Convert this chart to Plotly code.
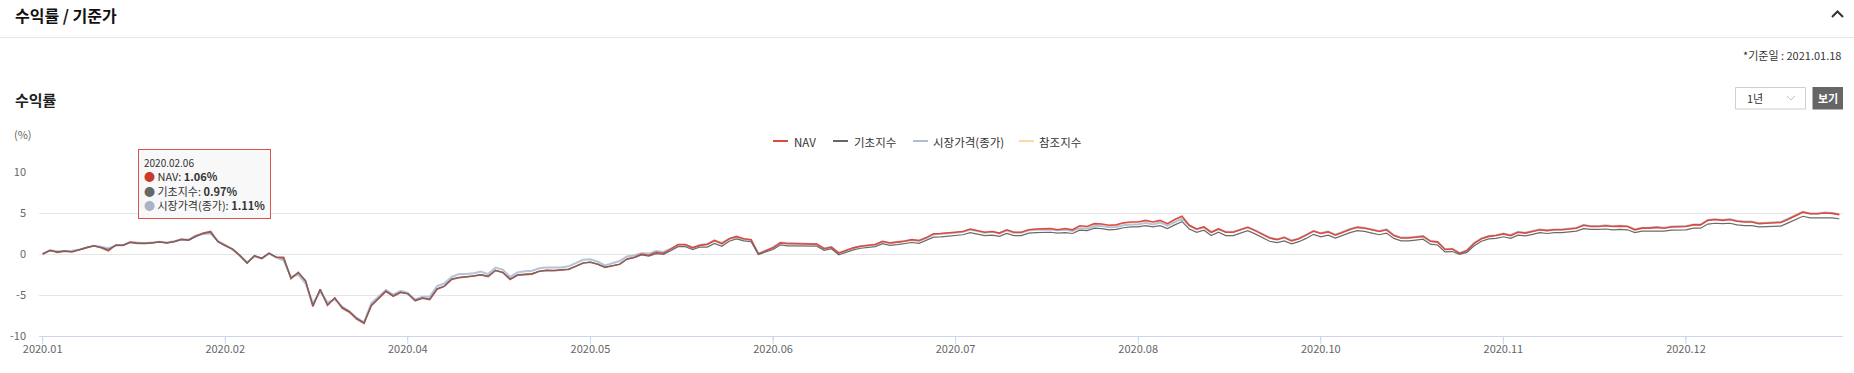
import plotly.graph_objects as go

# ---------------- data ----------------
NAV = [
    0.00, 0.45, 0.20, 0.35, 0.25, 0.50, 0.80, 1.00, 0.75, 0.40,
    1.10, 1.05, 1.45, 1.30, 1.30, 1.35, 1.50, 1.35, 1.50, 1.80,
    1.70, 2.20, 2.55, 2.75, 1.50, 1.06, 0.60, -0.20, -1.10, -0.20,
    -0.55, 0.10, -0.40, -0.40, -3.00, -2.25, -3.30, -6.40, -4.30, -6.25,
    -5.35, -6.60, -7.10, -7.95, -8.45, -6.30, -5.45, -4.55, -5.15, -4.70,
    -4.85, -5.70, -5.40, -5.55, -4.30, -3.95, -3.10, -2.90, -2.80, -2.70,
    -2.55, -2.75, -2.00, -2.25, -3.10, -2.60, -2.50, -2.45, -2.10, -2.00,
    -2.05, -2.00, -1.90, -1.50, -1.10, -1.00, -1.25, -1.65, -1.45, -1.25,
    -0.60, -0.40, 0.00, -0.15, 0.20, 0.10, 0.60, 1.15, 1.15, 0.75,
    1.05, 1.15, 1.65, 1.25, 1.85, 2.15, 1.85, 1.75, 0.00, 0.40,
    0.75, 1.35, 1.25, 1.25, 1.25, 1.20, 1.20, 0.65, 0.85, 0.10,
    0.40, 0.75, 0.95, 1.05, 1.15, 1.55, 1.35, 1.45, 1.55, 1.75,
    1.65, 2.00, 2.45, 2.50, 2.60, 2.65, 2.75, 3.05, 2.85, 2.65,
    2.75, 2.55, 2.95, 2.65, 2.65, 2.95, 3.05, 3.05, 3.10, 2.95,
    3.10, 2.95, 3.45, 3.35, 3.70, 3.65, 3.50, 3.55, 3.80, 3.90,
    3.90, 4.10, 3.90, 4.10, 3.70, 4.20, 4.60, 3.50, 3.05, 3.30,
    2.65, 3.05, 2.65, 2.65, 2.95, 3.25, 2.85, 2.35, 1.95, 1.75,
    2.00, 1.60, 1.85, 2.30, 2.80, 2.50, 2.70, 2.30, 2.70, 3.00,
    3.25, 3.15, 2.95, 2.75, 2.95, 2.25, 1.95, 1.95, 2.05, 2.15,
    1.55, 1.45, 0.55, 0.60, 0.10, 0.40, 1.30, 1.85, 2.15, 2.25,
    2.45, 2.25, 2.65, 2.55, 2.75, 2.95, 2.85, 2.95, 2.95, 3.05,
    3.15, 3.50, 3.35, 3.35, 3.45, 3.35, 3.40, 3.35, 2.95, 3.15,
    3.15, 3.25, 3.15, 3.30, 3.30, 3.35, 3.55, 3.55, 4.10, 4.20,
    4.10, 4.20, 4.00, 3.90, 3.90, 3.70, 3.75, 3.80, 3.85, 4.25,
    4.65, 5.10, 4.90, 4.90, 5.00, 4.95, 4.80,
]

BASE = [
    0.00, 0.40, 0.25, 0.35, 0.30, 0.50, 0.80, 1.00, 0.80, 0.55,
    1.05, 1.05, 1.40, 1.30, 1.30, 1.35, 1.45, 1.35, 1.50, 1.75,
    1.70, 2.15, 2.50, 2.65, 1.50, 0.97, 0.60, -0.15, -1.10, -0.20,
    -0.55, 0.10, -0.40, -0.55, -2.95, -2.25, -3.25, -6.30, -4.30, -6.20,
    -5.35, -6.50, -7.00, -7.85, -8.40, -6.25, -5.40, -4.50, -5.10, -4.65,
    -4.85, -5.65, -5.35, -5.50, -4.25, -3.90, -3.05, -2.85, -2.75, -2.70,
    -2.50, -2.70, -2.00, -2.25, -3.05, -2.55, -2.45, -2.40, -2.10, -2.00,
    -2.00, -1.95, -1.85, -1.50, -1.10, -1.00, -1.25, -1.60, -1.45, -1.25,
    -0.65, -0.45, -0.10, -0.25, 0.05, -0.05, 0.40, 0.90, 0.90, 0.55,
    0.85, 0.85, 1.30, 0.95, 1.55, 1.85, 1.60, 1.50, -0.05, 0.25,
    0.55, 1.10, 1.00, 1.00, 1.00, 0.95, 0.95, 0.45, 0.65, -0.10,
    0.20, 0.50, 0.70, 0.80, 0.90, 1.25, 1.05, 1.15, 1.25, 1.40,
    1.30, 1.65, 2.05, 2.10, 2.20, 2.25, 2.35, 2.60, 2.40, 2.25,
    2.30, 2.15, 2.50, 2.25, 2.25, 2.55, 2.60, 2.60, 2.65, 2.55,
    2.60, 2.50, 2.90, 2.85, 3.15, 3.10, 2.95, 3.00, 3.20, 3.30,
    3.30, 3.45, 3.30, 3.45, 3.10, 3.55, 3.95, 3.05, 2.65, 2.90,
    2.25, 2.65, 2.25, 2.25, 2.55, 2.85, 2.45, 1.95, 1.55, 1.40,
    1.60, 1.25, 1.50, 1.90, 2.40, 2.10, 2.30, 1.95, 2.30, 2.60,
    2.85, 2.75, 2.55, 2.35, 2.55, 1.90, 1.60, 1.60, 1.70, 1.80,
    1.20, 1.10, 0.25, 0.30, -0.05, 0.20, 1.00, 1.55, 1.85, 1.90,
    2.10, 1.90, 2.30, 2.20, 2.40, 2.60, 2.50, 2.60, 2.60, 2.70,
    2.80, 3.10, 3.00, 3.00, 3.05, 2.95, 3.00, 2.95, 2.60, 2.80,
    2.80, 2.85, 2.80, 2.90, 2.90, 2.95, 3.15, 3.15, 3.65, 3.75,
    3.70, 3.75, 3.55, 3.45, 3.45, 3.30, 3.35, 3.35, 3.40, 3.80,
    4.20, 4.60, 4.40, 4.40, 4.45, 4.40, 4.30,
]

MARKET = [
    0.00, 0.45, 0.35, 0.35, 0.40, 0.55, 0.80, 1.00, 0.90, 0.70,
    1.00, 1.10, 1.45, 1.35, 1.30, 1.40, 1.50, 1.40, 1.55, 1.80,
    1.75, 2.25, 2.45, 2.50, 1.60, 1.11, 0.55, -0.20, -1.00, -0.30,
    -0.50, 0.05, -0.45, -0.80, -2.80, -2.50, -3.60, -6.00, -4.60, -5.90,
    -5.55, -6.40, -7.00, -7.80, -8.35, -6.00, -5.25, -4.40, -4.95, -4.50,
    -4.75, -5.55, -5.20, -5.20, -3.90, -3.60, -2.80, -2.45, -2.45, -2.35,
    -2.15, -2.45, -1.65, -1.90, -2.80, -2.25, -2.10, -2.05, -1.75, -1.65,
    -1.65, -1.65, -1.50, -1.10, -0.70, -0.65, -0.95, -1.40, -1.15, -0.85,
    -0.30, -0.15, 0.10, 0.05, 0.35, 0.25, 0.65, 1.10, 1.10, 0.80,
    1.10, 1.25, 1.65, 1.35, 1.85, 2.05, 1.80, 1.70, 0.05, 0.40,
    0.80, 1.40, 1.35, 1.35, 1.30, 1.25, 1.20, 0.70, 0.85, 0.15,
    0.45, 0.75, 0.95, 1.05, 1.15, 1.50, 1.35, 1.45, 1.55, 1.70,
    1.60, 1.95, 2.40, 2.45, 2.55, 2.60, 2.70, 2.95, 2.80, 2.60,
    2.70, 2.50, 2.85, 2.60, 2.60, 2.90, 2.95, 2.95, 3.00, 2.90,
    2.95, 2.80, 3.15, 3.10, 3.40, 3.40, 3.25, 3.30, 3.50, 3.60,
    3.60, 3.80, 3.60, 3.85, 3.45, 3.90, 4.30, 3.45, 3.00, 3.25,
    2.65, 3.05, 2.70, 2.70, 3.00, 3.25, 2.90, 2.40, 2.00, 1.80,
    2.05, 1.65, 1.90, 2.35, 2.80, 2.55, 2.75, 2.35, 2.75, 3.05,
    3.30, 3.20, 3.00, 2.80, 3.00, 2.30, 2.00, 2.00, 2.10, 2.20,
    1.60, 1.50, 0.60, 0.65, 0.10, 0.45, 1.35, 1.90, 2.20, 2.30,
    2.50, 2.30, 2.70, 2.60, 2.80, 3.00, 2.90, 3.00, 3.00, 3.10,
    3.20, 3.55, 3.40, 3.40, 3.50, 3.40, 3.45, 3.40, 3.00, 3.20,
    3.20, 3.30, 3.20, 3.35, 3.35, 3.40, 3.60, 3.60, 4.15, 4.25,
    4.15, 4.25, 4.05, 3.95, 3.95, 3.75, 3.80, 3.85, 3.90, 4.30,
    4.70, 5.15, 4.95, 4.95, 5.05, 5.00, 4.85,
]

SERIES_NAMES = ["NAV", "기초지수", "시장가격(종가)", "참조지수"]
TICK_LABELS = ["2020.01", "2020.02", "2020.04", "2020.05", "2020.06",
               "2020.07", "2020.08", "2020.10", "2020.11", "2020.12"]
TICK_STEP = 25
Y_TICKS = [-10, -5, 0, 5, 10]
TOOLTIP_DATE = "2020.02.06"
TOOLTIP_INDEX = 25
BASE_DATE_TEXT = "*기준일 : 2021.01.18"
PERIOD_TEXT = "1년"

assert len(NAV) == len(BASE) == len(MARKET)

# ---------------- styling ----------------
W, H = 1854, 373
PL, PR, PT, PB = 39, 1843, 172, 336   # plot area in pixels
FONT = "Noto Sans CJK KR, Noto Sans, sans-serif"
C_NAV = "#dc4b3b"
C_BASE = "#6a6a6a"
C_MKT = "#b6c3d8"
C_REF = "#f8dca2"
C_AXIS = "#ccd6eb"


def fx(px):
    return (px - PL) / (PR - PL)


def fy(py):
    return (PB - py) / (PB - PT)


x = list(range(len(NAV)))
fig = go.Figure()
fig.add_trace(go.Scatter(x=x, y=MARKET, mode="lines", name=SERIES_NAMES[2],
                         line=dict(color=C_MKT, width=2), showlegend=False))
fig.add_trace(go.Scatter(x=x, y=NAV, mode="lines", name=SERIES_NAMES[0],
                         line=dict(color=C_NAV, width=1.6), showlegend=False))
fig.add_trace(go.Scatter(x=x, y=BASE, mode="lines", name=SERIES_NAMES[1],
                         line=dict(color=C_BASE, width=1.2), showlegend=False))

tickvals = list(range(0, len(NAV), TICK_STEP))[:len(TICK_LABELS)]

fig.update_layout(
    width=W, height=H,
    margin=dict(l=PL, r=W - PR, t=PT, b=H - PB, pad=0),
    paper_bgcolor="white", plot_bgcolor="white",
    font=dict(family=FONT, size=11, color="#666"),
    showlegend=False,
    xaxis=dict(range=[-0.5, len(NAV) - 0.5], tickvals=tickvals, ticktext=TICK_LABELS,
               showgrid=False, zeroline=False, showline=True, linecolor=C_AXIS,
               linewidth=1, ticks="outside", ticklen=3, tickcolor=C_AXIS,
               tickfont=dict(size=11, color="#666"), automargin=False, fixedrange=True),
    yaxis=dict(range=[-10, 10], tickvals=Y_TICKS, ticktext=[str(v) for v in Y_TICKS],
               showgrid=True, gridcolor="#e6e6e6", gridwidth=1, zeroline=False,
               showline=False, ticks="", ticklabelstandoff=12,
               tickfont=dict(size=11, color="#666"), automargin=False, fixedrange=True),
)

shapes = []
ann = []

# longer x tick marks (the axis labels sit closer than the marks reach)
for tv in tickvals:
    shapes.append(dict(type="line", xref="x", yref="paper", x0=tv, x1=tv,
                       y0=0, y1=fy(PB + 8), line=dict(color=C_AXIS, width=1)))

# header
ann.append(dict(x=fx(13), y=fy(15), xref="paper", yref="paper", text="<b>수익률 / 기준가</b>",
                showarrow=False, xanchor="left", yanchor="middle",
                font=dict(family=FONT, size=16, color="#111")))
shapes.append(dict(type="line", xref="paper", yref="paper", x0=fx(0), x1=fx(W), y0=fy(37.5), y1=fy(37.5),
                   line=dict(color="#e8e8e8", width=1)))
shapes.append(dict(type="path", xref="paper", yref="paper",
                   path=f"M {fx(1832)} {fy(17)} L {fx(1837.5)} {fy(11.5)} L {fx(1843)} {fy(17)}",
                   line=dict(color="#333", width=2)))
ann.append(dict(x=fx(1843), y=fy(55), xref="paper", yref="paper", text=BASE_DATE_TEXT,
                showarrow=False, xanchor="right", yanchor="middle",
                font=dict(family=FONT, size=11, color="#333")))
ann.append(dict(x=fx(13), y=fy(99), xref="paper", yref="paper", text="<b>수익률</b>",
                showarrow=False, xanchor="left", yanchor="middle",
                font=dict(family=FONT, size=15, color="#222")))

# dropdown + button
shapes.append(dict(type="rect", xref="paper", yref="paper", x0=fx(1735.5), x1=fx(1805.5),
                   y0=fy(109), y1=fy(87.5), line=dict(color="#cfcfcf", width=1), fillcolor="white"))
ann.append(dict(x=fx(1745), y=fy(98.5), xref="paper", yref="paper", text=PERIOD_TEXT,
                showarrow=False, xanchor="left", yanchor="middle",
                font=dict(family=FONT, size=11, color="#333")))
shapes.append(dict(type="path", xref="paper", yref="paper",
                   path=f"M {fx(1787)} {fy(96)} L {fx(1791)} {fy(100)} L {fx(1795)} {fy(96)}",
                   line=dict(color="#c4c4c4", width=1)))
shapes.append(dict(type="rect", xref="paper", yref="paper", x0=fx(1812.5), x1=fx(1843),
                   y0=fy(109.5), y1=fy(87), line=dict(width=0), fillcolor="#666"))
ann.append(dict(x=fx(1827.7), y=fy(98.5), xref="paper", yref="paper", text="<b>보기</b>",
                showarrow=False, xanchor="center", yanchor="middle",
                font=dict(family=FONT, size=11, color="white")))

# unit label
ann.append(dict(x=fx(23), y=fy(134), xref="paper", yref="paper", text="(%)",
                showarrow=False, xanchor="center", yanchor="middle",
                font=dict(family=FONT, size=11, color="#666")))

# legend (drawn)
legend_items = [(773, 792, SERIES_NAMES[0], C_NAV), (833, 852, SERIES_NAMES[1], "#666"),
                (913, 931, SERIES_NAMES[2], "#adbdd6"), (1019, 1037, SERIES_NAMES[3], C_REF)]
for lx, tx, name, col in legend_items:
    shapes.append(dict(type="line", xref="paper", yref="paper", x0=fx(lx), x1=fx(lx + 15),
                       y0=fy(141), y1=fy(141), line=dict(color=col, width=2)))
    ann.append(dict(x=fx(tx), y=fy(141.5), xref="paper", yref="paper", text=name,
                    showarrow=False, xanchor="left", yanchor="middle",
                    font=dict(family=FONT, size=11.5, color="#333")))

# tooltip
i = TOOLTIP_INDEX
tip = (f"<span style='font-size:10px'>{TOOLTIP_DATE}</span><br>"
       f"<span style='color:#c9392c'>●</span> {SERIES_NAMES[0]}: <b>{NAV[i]:.2f}%</b><br>"
       f"<span style='color:#666'>●</span> {SERIES_NAMES[1]}: <b>{BASE[i]:.2f}%</b><br>"
       f"<span style='color:#a8b4c8'>●</span> {SERIES_NAMES[2]}: <b>{MARKET[i]:.2f}%</b>")
ann.append(dict(x=fx(138), y=fy(148.5), xref="paper", yref="paper", text=tip,
                showarrow=False, xanchor="left", yanchor="top", align="left",
                bordercolor="#d9534f", borderwidth=1, borderpad=5,
                bgcolor="rgba(248,248,248,0.96)",
                font=dict(family=FONT, size=11, color="#333")))

fig.update_layout(shapes=shapes, annotations=ann)
fig.write_html("out.html",
               config={"displayModeBar": False},
               post_script="document.body.style.margin='0px';document.body.style.overflow='hidden';")
